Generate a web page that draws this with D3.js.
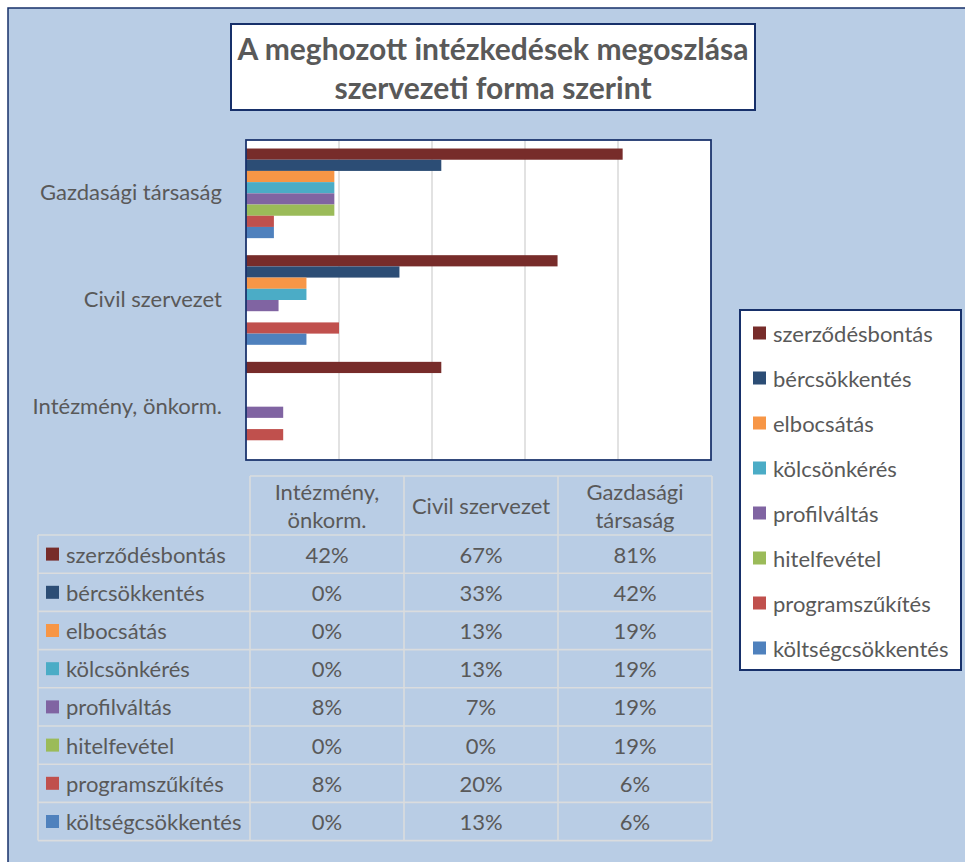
<!DOCTYPE html>
<html>
<head>
<meta charset="utf-8">
<script src="https://cdn.jsdelivr.net/npm/d3@7"></script>
<style>
  body { margin: 0; background: #fff; }
  text { font-family: Lato, "Open Sans", sans-serif; fill: #595959; }
</style>
</head>
<body>
<svg id="chart" width="965" height="862"></svg>
<script>
// categories as they appear in the data table (left to right)
const categories = ["Intézmény, önkorm.", "Civil szervezet", "Gazdasági társaság"];
const headerLines = [["Intézmény,", "önkorm."], ["Civil szervezet"], ["Gazdasági", "társaság"]];

const seriesNames = ["szerződésbontás", "bércsökkentés", "elbocsátás", "kölcsönkérés",
                     "profilváltás", "hitelfevétel", "programszűkítés", "költségcsökkentés"];
const seriesColors = ["#772C2A", "#2C4D75", "#F79646", "#4BACC6",
                      "#8064A2", "#9BBB59", "#C0504D", "#4F81BD"];

// percentages per series, in category order above
const szerzodesbontas   = [42, 67, 81];
const bercsokkentes     = [0, 33, 42];
const elbocsatas        = [0, 13, 19];
const kolcsonkeres      = [0, 13, 19];
const profilvaltas      = [8, 7, 19];
const hitelfevetel      = [0, 0, 19];
const programszukites   = [8, 20, 6];
const koltsegcsokkentes = [0, 13, 6];

const gridTicks = [0, 0.2, 0.4, 0.6, 0.8, 1];

const seriesValues = [szerzodesbontas, bercsokkentes, elbocsatas, kolcsonkeres,
                      profilvaltas, hitelfevetel, programszukites, koltsegcsokkentes];
let series = seriesNames.map((n, i) => ({ name: n, color: seriesColors[i], values: seriesValues[i] }));

let svg = d3.select("svg#chart");
const navy = "#17306A";
const grid = "#D9D9D9";
const fs = "22px";

// chart background
svg.append("rect")
    .attr("x", 8).attr("y", 8)
    .attr("width", 980).attr("height", 880)
    .attr("fill", "#B9CDE5")
    .attr("stroke", navy).attr("stroke-width", 1.5);

// title box
svg.append("rect")
    .attr("x", 231).attr("y", 24)
    .attr("width", 524).attr("height", 86)
    .attr("fill", "#fff")
    .attr("stroke", navy).attr("stroke-width", 2);
let title = svg.append("text")
    .attr("text-anchor", "middle")
    .style("font-weight", "bold")
    .style("font-size", "30px");
title.append("tspan").attr("x", 493).attr("y", 60).text("A meghozott intézkedések megoszlása");
title.append("tspan").attr("x", 493).attr("y", 99).text("szervezeti forma szerint");

// plot area
let plot = { left: 246, right: 711, top: 140, bottom: 460 };
const xScale = d3.scaleLinear().domain([0, 1]).range([plot.left, plot.right]);
const yScale = d3.scaleBand().domain(categories.slice().reverse()).range([plot.top, plot.bottom]);
const inner = d3.scaleBand().domain(seriesNames).range([0, yScale.bandwidth()]).paddingOuter(0.76);

svg.append("rect")
    .attr("x", plot.left).attr("y", plot.top)
    .attr("width", plot.right - plot.left).attr("height", plot.bottom - plot.top)
    .attr("fill", "#fff");

// vertical gridlines
svg.append("g")
    .selectAll("line")
    .data(gridTicks.slice(1, -1))
    .join("line")
    .attr("x1", d => xScale(d)).attr("x2", d => xScale(d))
    .attr("y1", plot.top).attr("y2", plot.bottom)
    .attr("stroke", grid).attr("stroke-width", 1.5);

// bars
let bars = svg.append("g");
series.forEach(s => {
  bars.append("g")
    .selectAll("rect")
    .data(s.values.map((v, i) => ({ cat: categories[i], v: v })).filter(d => d.v > 0))
    .join("rect")
    .attr("x", xScale(0))
    .attr("y", d => yScale(d.cat) + inner(s.name))
    .attr("width", d => xScale(d.v / 100) - xScale(0))
    .attr("height", inner.bandwidth())
    .attr("fill", s.color);
});

svg.append("rect")
    .attr("x", plot.left).attr("y", plot.top)
    .attr("width", plot.right - plot.left).attr("height", plot.bottom - plot.top)
    .attr("fill", "none")
    .attr("stroke", navy).attr("stroke-width", 1.75);

// category axis labels
let leftAxis = d3.axisLeft(yScale).tickSize(0).tickPadding(24);
let yAxis = svg.append("g")
    .attr("transform", "translate(" + plot.left + ",0)")
    .call(leftAxis);
yAxis.select(".domain").remove();
yAxis.selectAll("text")
    .style("font-size", fs)
    .style("font-family", "Lato, sans-serif")
    .attr("fill", "#595959");

// legend
let legend = { x: 740, y: 310, w: 221, h: 360 };
svg.append("rect")
    .attr("x", legend.x).attr("y", legend.y)
    .attr("width", legend.w).attr("height", legend.h)
    .attr("fill", "#fff")
    .attr("stroke", navy).attr("stroke-width", 2);
const legendY = d3.scalePoint().domain(seriesNames).range([333, 648]);
let items = svg.append("g").selectAll("g")
    .data(series)
    .join("g")
    .attr("transform", d => "translate(753," + legendY(d.name) + ")");
items.append("rect")
    .attr("x", 0).attr("y", -6.5)
    .attr("width", 13).attr("height", 13)
    .attr("fill", d => d.color);
items.append("text")
    .attr("x", 20).attr("y", 0)
    .attr("dominant-baseline", "central")
    .style("font-size", fs)
    .text(d => d.name);

// data table
let table = { left: 38, colStart: 250, right: 712, top: 476, headBottom: 535, rowH: 38.2 };
const colScale = d3.scaleBand().domain(categories).range([table.colStart, table.right]);
const rowScale = d3.scaleBand().domain(seriesNames)
    .range([table.headBottom, table.headBottom + table.rowH * seriesNames.length]);
const tableBottom = table.headBottom + table.rowH * seriesNames.length;

let tg = svg.append("g");
// horizontal lines
tg.append("line")
    .attr("x1", table.colStart).attr("x2", table.right)
    .attr("y1", table.top).attr("y2", table.top);
seriesNames.forEach(n => {
  tg.append("line")
    .attr("x1", table.left).attr("x2", table.right)
    .attr("y1", rowScale(n)).attr("y2", rowScale(n));
});
tg.append("line")
    .attr("x1", table.left).attr("x2", table.right)
    .attr("y1", tableBottom).attr("y2", tableBottom);
// vertical lines
tg.append("line")
    .attr("x1", table.left).attr("x2", table.left)
    .attr("y1", table.headBottom).attr("y2", tableBottom);
categories.forEach(c => {
  tg.append("line")
    .attr("x1", colScale(c)).attr("x2", colScale(c))
    .attr("y1", table.top).attr("y2", tableBottom);
});
tg.append("line")
    .attr("x1", table.right).attr("x2", table.right)
    .attr("y1", table.top).attr("y2", tableBottom);
tg.selectAll("line").attr("stroke", "#DADCDE").attr("stroke-width", 1.6);

// header
categories.forEach((c, i) => {
  let lines = headerLines[i];
  let cx = colScale(c) + colScale.bandwidth() / 2;
  let cy = (table.top + table.headBottom) / 2;
  lines.forEach((l, j) => {
    tg.append("text")
      .attr("x", cx)
      .attr("y", cy + (j - (lines.length - 1) / 2) * 28)
      .attr("text-anchor", "middle")
      .attr("dominant-baseline", "central")
      .style("font-size", fs)
      .text(l);
  });
});

// rows
series.forEach(s => {
  let cy = rowScale(s.name) + rowScale.bandwidth() / 2;
  tg.append("rect")
    .attr("x", 46).attr("y", cy - 6.5)
    .attr("width", 13).attr("height", 13)
    .attr("fill", s.color);
  tg.append("text")
    .attr("x", 66).attr("y", cy)
    .attr("dominant-baseline", "central")
    .style("font-size", fs)
    .text(s.name);
  s.values.forEach((v, i) => {
    tg.append("text")
      .attr("x", colScale(categories[i]) + colScale.bandwidth() / 2)
      .attr("y", cy)
      .attr("text-anchor", "middle")
      .attr("dominant-baseline", "central")
      .style("font-size", fs)
      .text(v + "%");
  });
});
</script>
</body>
</html>
